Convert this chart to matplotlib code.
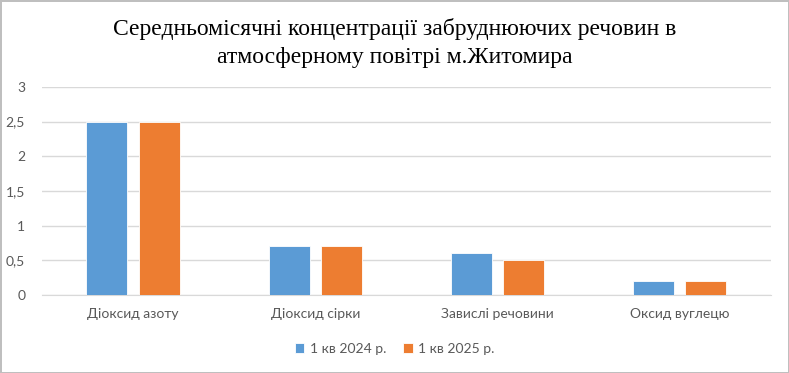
import matplotlib.pyplot as plt
import numpy as np

categories = ["Діоксид азоту", "Діоксид сірки", "Завислі речовини", "Оксид вуглецю"]
q1_2024 = [2.5, 0.7, 0.6, 0.2]
q1_2025 = [2.5, 0.7, 0.5, 0.2]
series_names = ["1 кв 2024 р.", "1 кв 2025 р."]
y_ticks = [0, 0.5, 1, 1.5, 2, 2.5, 3]
y_labels = ["0", "0,5", "1", "1,5", "2", "2,5", "3"]

blue = "#5B9BD5"
orange = "#ED7D31"
grey = "#595959"

fig = plt.figure(figsize=(7.89, 3.73), dpi=100)
fig.patch.set_edgecolor("#BFBFBF")
fig.patch.set_linewidth(2)
ax = fig.add_axes([0.053, 0.209, 0.924, 0.558])

x = np.arange(len(categories))
w = 0.225
ax.bar(x - 0.143, q1_2024, w, color=blue, edgecolor="white", linewidth=0.6,
       label=series_names[0], zorder=3)
ax.bar(x + 0.143, q1_2025, w, color=orange, edgecolor="white", linewidth=0.6,
       label=series_names[1], zorder=3)

ax.set_xlim(-0.5, len(categories) - 0.5)
ax.set_ylim(0, 3)
ax.set_yticks(y_ticks)
ax.set_yticklabels(y_labels)
ax.set_xticks(x)
ax.set_xticklabels(categories)
ax.grid(axis="y", color="#D9D9D9", linewidth=1, zorder=0)
for s in ["top", "right", "left"]:
    ax.spines[s].set_visible(False)
ax.spines["bottom"].set_color("#D9D9D9")
ax.tick_params(length=0, colors=grey, labelsize=10)
ax.tick_params(axis="x", pad=9)
ax.tick_params(axis="y", pad=12)
for lab in ax.get_xticklabels() + ax.get_yticklabels():
    lab.set_fontfamily("Lato")

fig.text(0.5, 0.885, "Середньомісячні концентрації забруднюючих речовин в\nатмосферному повітрі м.Житомира",
         ha="center", va="center", fontsize=17, family="Liberation Serif", linespacing=1.4)

leg = fig.legend(loc="center", bbox_to_anchor=(0.5, 0.065), ncol=2, frameon=False,
                 prop={"family": "Lato", "size": 10}, handlelength=0.7, handleheight=0.7,
                 handletextpad=0.4, columnspacing=1.2)
for t in leg.get_texts():
    t.set_color(grey)

fig.savefig("out.png", dpi=100)
